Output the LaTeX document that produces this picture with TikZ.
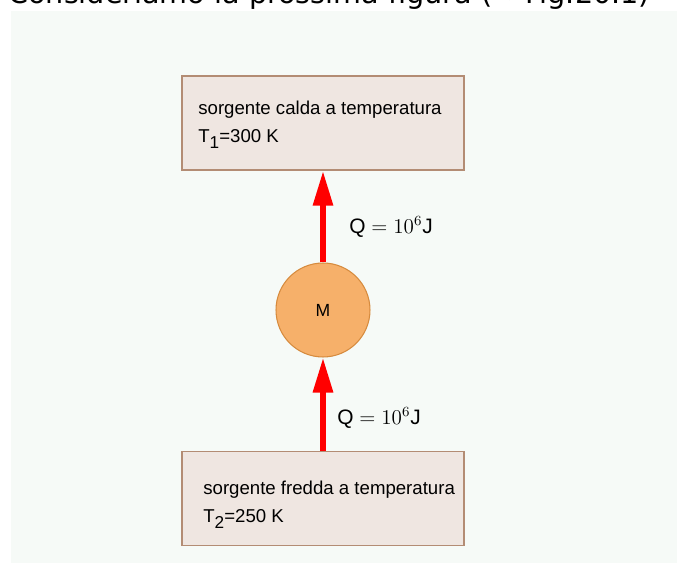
\documentclass[tikz,border=0pt]{standalone}
\usepackage{fontspec}
\setmainfont{Liberation Sans}
\newfontfamily\headfont{DejaVu Sans}
\usetikzlibrary{arrows.meta, positioning}
\definecolor{cpanel}{HTML}{F6FAF7}
\definecolor{cbox}{HTML}{EFE6E1}
\definecolor{cboxline}{HTML}{B38C74}
\definecolor{corange}{HTML}{F6B06A}
\definecolor{corangeline}{HTML}{D68B3E}
\definecolor{cred}{HTML}{FF0000}
\newcommand{\lowsub}[1]{\raisebox{-0.12cm}{\fontsize{9.8}{10}\selectfont #1}}
\tikzset{
  every picture/.style={x=0.02cm, y=-0.02cm},
  box/.style={draw=cboxline, fill=cbox, line width=0.8pt, minimum width=5.64cm, minimum height=1.88cm, inner sep=0pt},
  boxtext/.style={anchor=west, align=left, inner sep=0pt, font=\fontsize{10.6}{16.2}\selectfont},
  heat/.style={-{Triangle[length=0.7cm, width=0.38cm]}, draw=cred, line width=0.12cm},
  qlabel/.style={anchor=west, inner sep=0pt, font=\fontsize{11.9}{14}\selectfont},
}

\begin{document}
\begin{tikzpicture}
  \useasboundingbox (0,0) rectangle (677,563);
  \clip (0,0) rectangle (677,563);
  \fill[cpanel] (11,11) rectangle (677,563);
  \node[anchor=base west, inner sep=0pt, font=\headfont\fontsize{16.3}{18}\selectfont] (head) at (8,4) {Consideriamo la prossima figura (→ Fig.20.1)};
  % the two sources and the machine
  \node[box] (hot) at (323,123) {};
  \node[boxtext] (hottext) at (198,125) {sorgente calda a temperatura\\T\lowsub{1}=300 K};
  \node[box] (cold) at (323,498.5) {};
  \node[boxtext] (coldtext) at (203,505) {sorgente fredda a temperatura\\T\lowsub{2}=250 K};
  \node[circle, draw=corangeline, fill=corange, line width=0.6pt, minimum size=1.88cm, inner sep=0pt, font=\fontsize{10}{12}\selectfont] (mach) at (323,310) {M};
  % heat flows
  \draw[heat] (cold.north) -- (mach.south);
  \draw[heat] (mach.north) -- (hot.south);
  \node[qlabel] (qtop) at (349,227) {$\mathrm{Q}=10^6\mathrm{J}$};
  \node[qlabel] (qbot) at (337,418) {$\mathrm{Q}=10^6\mathrm{J}$};
\end{tikzpicture}
\end{document}
